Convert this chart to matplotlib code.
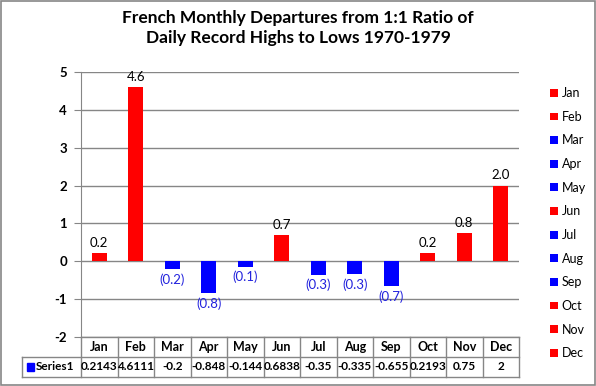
import matplotlib.pyplot as plt
from matplotlib.patches import Patch, Rectangle

months = ["Jan", "Feb", "Mar", "Apr", "May", "Jun", "Jul", "Aug", "Sep", "Oct", "Nov", "Dec"]
values = [0.2143, 4.6111, -0.2, -0.848, -0.144, 0.6838, -0.35, -0.335, -0.655, 0.2193, 0.75, 2]
series_name = "Series1"

plt.rcParams["font.family"] = ["Lato", "DejaVu Sans"]
plt.rcParams["axes.unicode_minus"] = False
grid_col = "#868686"

colors = ["#FF0000" if v >= 0 else "#0000FF" for v in values]
x = list(range(len(months)))

fig = plt.figure(figsize=(5.96, 3.86), dpi=100)
fig.patches.append(Rectangle((0.001, 0.002), 0.997, 0.996, transform=fig.transFigure,
                             fill=False, edgecolor=grid_col, linewidth=1.2))
ax = fig.add_axes([81 / 596, 1 - 337 / 386, 438 / 596, 265 / 386])

ax.bar(x, values, width=0.42, color=colors, zorder=3)
ax.set_xlim(-0.5, 11.5)
ax.set_ylim(-2, 5)
ax.set_yticks(range(-2, 6))
ax.grid(axis="y", color=grid_col, linewidth=1)
ax.tick_params(axis="y", length=5, color=grid_col, labelsize=9.5, pad=5)
for lbl in ax.get_yticklabels():
    lbl.set_fontweight("bold")
ax.set_xticks([])
for side in ["top", "right", "bottom"]:
    ax.spines[side].set_visible(False)
ax.spines["left"].set_color(grid_col)

# value labels
for xi, v in zip(x, values):
    if v >= 0:
        ax.annotate(f"{v:.1f}", (xi, v), xytext=(0, 3), textcoords="offset points",
                    ha="center", va="bottom", fontsize=9.5, color="black")
    else:
        ax.annotate(f"({abs(v):.1f})", (xi, v), xytext=(0, -3), textcoords="offset points",
                    ha="center", va="top", fontsize=9.5, color="#2222DD")

# data table under the axis
tr = ax.get_xaxis_transform()
row_h = 20 / 265
left_x = -0.5 - 59 / 36.5
lk = dict(color=grid_col, linewidth=1, transform=tr, clip_on=False)
ax.plot([-0.5, 11.5], [0, 0], **lk)
ax.plot([left_x, 11.5], [-row_h, -row_h], **lk)
ax.plot([left_x, 11.5], [-2 * row_h, -2 * row_h], **lk)
ax.plot([left_x, left_x], [-row_h, -2 * row_h], **lk)
for b in range(13):
    ax.plot([b - 0.5, b - 0.5], [0, -2 * row_h], **lk)
for xi, m, v in zip(x, months, values):
    ax.text(xi, -row_h / 2, m, transform=tr, ha="center", va="center",
            fontsize=9, fontweight="bold")
    ax.text(xi, -1.5 * row_h, f"{v:g}", transform=tr, ha="center", va="center",
            fontsize=8.5, fontweight="bold")
ax.add_patch(Rectangle((left_x + 0.14, -1.5 * row_h - 0.014), 0.19, 0.028,
                       color="#0000FF", transform=tr, clip_on=False))
ax.text(left_x + 0.38, -1.5 * row_h, series_name, transform=tr, ha="left", va="center",
        fontsize=8.5, fontweight="bold")

fig.suptitle("French Monthly Departures from 1:1 Ratio of\nDaily Record Highs to Lows 1970-1979",
             y=0.975, fontsize=12.5, fontweight="bold", linespacing=1.35)

handles = [Patch(facecolor=c, edgecolor="none") for c in colors]
fig.legend(handles, months, loc="upper left", bbox_to_anchor=(544 / 596, 1 - 81 / 386),
           frameon=False, fontsize=9, handlelength=0.6, handleheight=0.6,
           handletextpad=0.3, labelspacing=0.93, borderpad=0)

fig.savefig("out.png", dpi=100)
